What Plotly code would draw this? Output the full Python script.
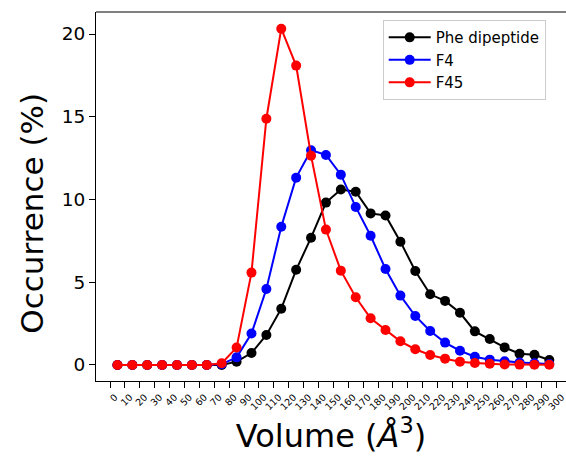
import plotly.graph_objects as go

volume = list(range(5, 300, 10))
tick_vals = list(range(0, 301, 10))
tick_text = [str(v) for v in tick_vals]

phe_dipeptide = [0, 0, 0, 0, 0, 0, 0, 0, 0.2, 0.72, 1.81, 3.4, 5.75, 7.69, 9.81,
                 10.6, 10.47, 9.16, 9.03, 7.45, 5.68, 4.27, 3.87, 3.15, 2.03, 1.57,
                 1.06, 0.68, 0.62, 0.3]
f4 = [0, 0, 0, 0, 0, 0, 0, 0.05, 0.46, 1.9, 4.59, 8.35, 11.32, 12.98, 12.69,
      11.5, 9.55, 7.81, 5.8, 4.19, 2.96, 2.05, 1.35, 0.86, 0.5, 0.32, 0.22,
      0.15, 0.1, 0.05]
f45 = [0, 0, 0, 0, 0, 0, 0, 0.1, 1.05, 5.58, 14.88, 20.32, 18.09, 12.65, 8.18,
       5.7, 4.09, 2.82, 2.11, 1.43, 0.95, 0.6, 0.38, 0.2, 0.12, 0.07, 0.03,
       0.02, 0.01, 0.01]

series = [("Phe dipeptide", phe_dipeptide, "#000000"),
          ("F4", f4, "#0000ff"),
          ("F45", f45, "#ff0000")]

fig = go.Figure()
for name, vals, color in series:
    fig.add_trace(go.Scatter(
        x=volume, y=vals, name=name, mode="lines+markers",
        line=dict(color=color, width=2),
        marker=dict(color=color, size=10),
    ))

font_family = "DejaVu Sans"
fig.update_layout(
    width=566, height=459,
    margin=dict(l=96, r=0, t=12, b=78),
    paper_bgcolor="white", plot_bgcolor="white",
    font=dict(family=font_family, color="black"),
    showlegend=True,
    legend=dict(
        x=0.61, y=0.978, xanchor="left", yanchor="top",
        bordercolor="#cccccc", borderwidth=1, bgcolor="rgba(255,255,255,0.8)",
        font=dict(size=15, family=font_family),
        itemwidth=42,
        tracegroupgap=0,
    ),
    xaxis=dict(
        range=[-9.4, 306.2],
        tickmode="array", tickvals=tick_vals, ticktext=tick_text,
        tickangle=-45, tickfont=dict(size=9.5),
        ticks="outside", ticklen=6, tickcolor="black",
        ticklabelshift=5, ticklabeloverflow="allow",
        showgrid=False, zeroline=False, showline=True, linecolor="black", linewidth=1,
        title=dict(text="Volume (<i>Å</i><sup>3</sup>)", font=dict(size=32), standoff=12),
    ),
    yaxis=dict(
        range=[-0.97, 21.33],
        tickmode="array", tickvals=[0, 5, 10, 15, 20],
        tickfont=dict(size=18.5),
        ticks="outside", ticklen=6, tickcolor="black",
        showgrid=False, zeroline=False, showline=True, linecolor="black", linewidth=1,
    ),
    annotations=[dict(text="Occurrence (%)", textangle=-90, xref="paper", yref="paper",
                      x=-0.135, y=0.455, xanchor="center", yanchor="middle",
                      showarrow=False, font=dict(size=31, family=font_family))],
    shapes=[dict(type="line", xref="paper", yref="paper", x0=0, x1=1.05, y0=1, y1=1,
                 line=dict(color="black", width=1))],
)

fig.write_html("out.html")
